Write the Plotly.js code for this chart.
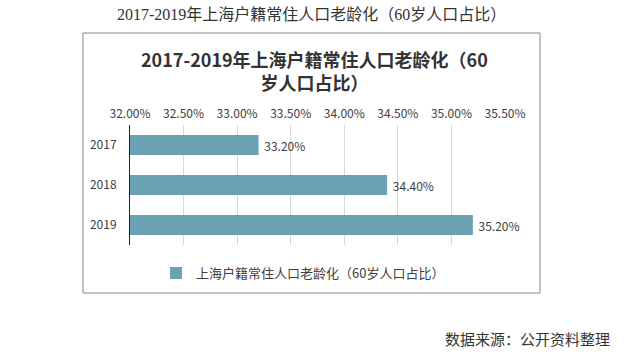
<!DOCTYPE html>
<html>
<head>
<meta charset="utf-8">
<script src="https://cdn.plot.ly/plotly-3.0.1.min.js"></script>
<style>html,body{margin:0;padding:0;background:#fff;}#chart{width:638px;height:358px;}</style>
</head>
<body>
<div id="chart"></div>
<script>
const years = ['2017', '2018', '2019'];
const ratios = [0.332, 0.344, 0.352];
const seriesName = '上海户籍常住人口老龄化（60岁人口占比）';
const xTicks = [0.32, 0.325, 0.33, 0.335, 0.34, 0.345, 0.35, 0.355];
const chartTitle = '2017-2019年上海户籍常住人口老龄化（60<br>岁人口占比）';
const pageTitle = '2017-2019年上海户籍常住人口老龄化（60岁人口占比）';
const sourceText = '数据来源：公开资料整理';

const W = 638, H = 358;
const L = 130, R = 505, T = 125, B = 245;
const px = v => (v - L) / (R - L);
const py = v => (B - v) / (B - T);
const sans = '"Noto Sans CJK SC", "Noto Sans", sans-serif';

const trace = {
  type: 'bar',
  orientation: 'h',
  y: years,
  x: ratios,
  name: seriesName,
  marker: {color: '#6aa2b3'},
  texttemplate: '\u00a0%{x:.2%}',
  textposition: 'outside',
  textfont: {family: sans, size: 12, color: '#404040'},
  cliponaxis: false,
  showlegend: true,
  hoverinfo: 'none'
};

const layout = {
  width: W, height: H,
  paper_bgcolor: '#fff', plot_bgcolor: '#fff',
  margin: {l: L, r: W - R, t: T, b: H - B, pad: 0},
  bargap: 0.5,
  font: {family: sans, size: 12, color: '#404040'},
  xaxis: {
    side: 'top',
    range: [0.32, 0.355],
    tickvals: xTicks,
    tickformat: '.2%',
    showgrid: true, gridcolor: '#d9d9d9', gridwidth: 1,
    zeroline: false, showline: false,
    ticks: '',
    ticklabelstandoff: 4,
    tickfont: {family: sans, size: 12, color: '#404040'},
    fixedrange: true
  },
  yaxis: {
    type: 'category',
    autorange: 'reversed',
    showline: true, linecolor: '#222', linewidth: 1,
    showgrid: false, zeroline: false,
    ticks: 'outside', ticklen: 10, tickcolor: 'rgba(0,0,0,0)',
    tickfont: {family: sans, size: 12, color: '#404040'},
    fixedrange: true
  },
  legend: {
    orientation: 'h',
    x: px(303), xanchor: 'center',
    y: py(273), yanchor: 'middle',
    itemwidth: 30,
    font: {family: sans, size: 13, color: '#404040'},
    bgcolor: 'rgba(0,0,0,0)'
  },
  shapes: [{
    type: 'rect', xref: 'paper', yref: 'paper',
    x0: px(83), x1: px(540), y0: py(293), y1: py(33),
    line: {color: '#888', width: 1}, fillcolor: 'rgba(0,0,0,0)', layer: 'below'
  }],
  annotations: [
    {
      text: chartTitle, xref: 'paper', yref: 'paper',
      x: px(314), y: py(70), xanchor: 'center', yanchor: 'middle',
      showarrow: false,
      font: {family: sans, size: 18, color: '#333', weight: 'bold'}
    },
    {
      text: pageTitle, xref: 'paper', yref: 'paper',
      x: px(311), y: py(15), xanchor: 'center', yanchor: 'middle',
      showarrow: false,
      font: {family: '"Liberation Serif", "Noto Sans CJK SC", serif', size: 16, color: '#333'}
    },
    {
      text: sourceText, xref: 'paper', yref: 'paper',
      x: px(612), y: py(338), xanchor: 'right', yanchor: 'middle',
      showarrow: false,
      font: {family: sans, size: 15, color: '#333'}
    }
  ]
};

Plotly.newPlot('chart', [trace], layout, {displayModeBar: false, staticPlot: true});
</script>
</body>
</html>
